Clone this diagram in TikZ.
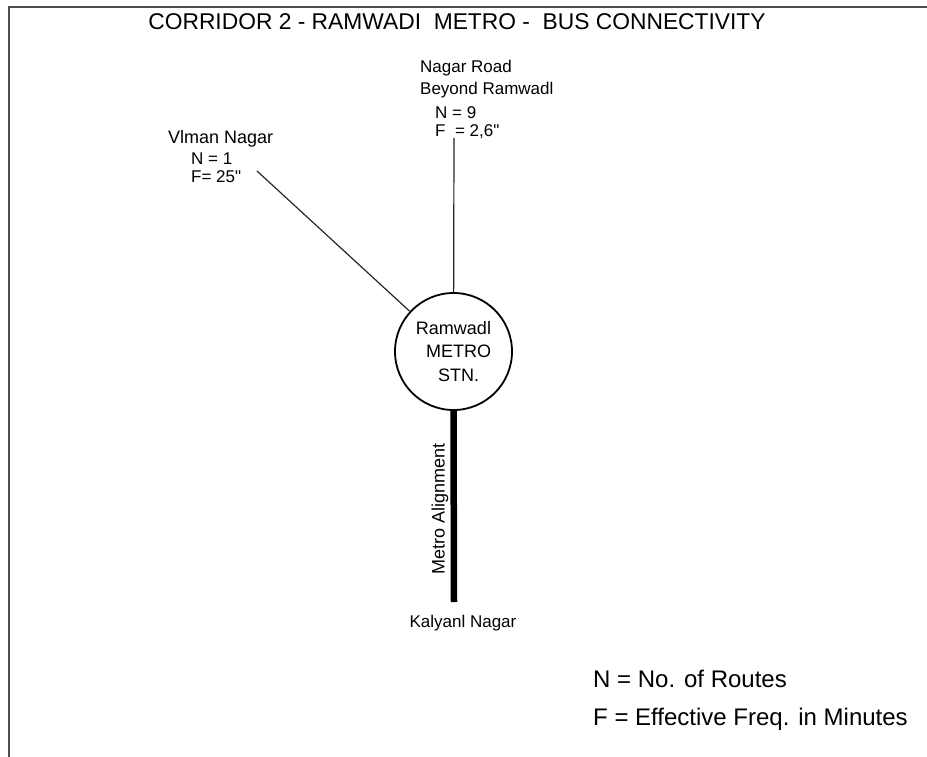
\documentclass[tikz,border=0pt]{standalone}
\usepackage{fontspec}
\setmainfont{Liberation Sans}[Ligatures=TeXOff]
\begin{document}
\begin{tikzpicture}[x=1pt,y=-1pt,
  lbl/.style={inner sep=0pt,anchor=west,font=\fontsize{17}{20}\selectfont},
  legend/.style={inner sep=0pt,anchor=west,font=\fontsize{24}{28}\selectfont},
  thin/.style={line width=1.2pt,draw=black!85},
  frame/.style={line width=2pt,draw=black!70}]
\useasboundingbox (0,0) rectangle (927,757);
\draw[frame] (9,757) -- (9,7) -- (927,7);
\node[inner sep=0pt,font=\fontsize{22.8}{27}\selectfont] (title) at (457,22) {CORRIDOR 2 - RAMWADI\ \ METRO -\ \ BUS CONNECTIVITY};
% Viman Nagar
\node[lbl,font=\fontsize{18}{20}\selectfont] (vname) at (168,139) {Vlman Nagar};
\node[lbl] (vn) at (191,159) {N = 1};
\node[lbl] (vf) at (191,177) {F= 25"};
% Nagar Road
\node[lbl] (rname1) at (420,68) {Nagar Road};
\node[lbl] (rname2) at (420,90) {Beyond Ramwadl};
\node[lbl] (rn) at (435,113) {N = 9};
\node[lbl] (rf) at (435,132) {F\ \ = 2,6"};
% station
\node[circle,draw,line width=1.8pt,minimum size=117pt,inner sep=0pt,
  align=center,font=\fontsize{18}{23.5}\selectfont] (stn) at (453.5,351.5) {Ramwadl\\\ \ METRO\\\ \ STN.};
\coordinate (vstart) at (257,171);
\coordinate (rstart) at (454,138);
\coordinate (kend) at (454,602);
\draw[thin] (vstart) -- (stn);
\draw[thin] (rstart) -- (stn);
\draw[line width=6.5pt] (stn.south) -- (kend);
\node[inner sep=0pt,rotate=90,font=\fontsize{18}{20}\selectfont] (align) at (440,509) {Metro Alignment};
\node[inner sep=0pt,font=\fontsize{17}{20}\selectfont] (kal) at (463,623) {Kalyanl Nagar};
% legend
\node[legend] (ln) at (593,679) {N = No. of Routes};
\node[legend] (lf) at (593,719) {F = Effective Freq. in Minutes};
\end{tikzpicture}
\end{document}
